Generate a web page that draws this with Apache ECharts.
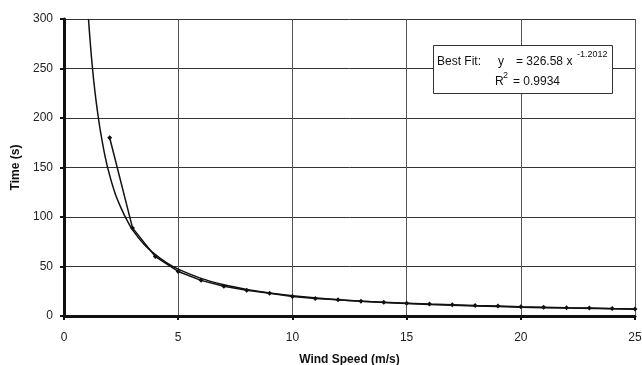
<!DOCTYPE html>
<html>
<head>
<meta charset="utf-8">
<script src="https://cdn.jsdelivr.net/npm/echarts@6/dist/echarts.min.js"></script>
<style>
  html, body { margin: 0; padding: 0; background: #fff; }
  #chart { width: 642px; height: 365px; }
</style>
</head>
<body>
<div id="chart"></div>
<script>
// measured times at each wind speed
const windSpeed = [2, 3, 4, 5, 6, 7, 8, 9, 10, 11, 12, 13, 14, 15, 16, 17, 18, 19, 20, 21, 22, 23, 24, 25]
const timeValues = [180, 89, 60, 45, 36, 30, 26, 23, 19.8, 17.8, 16.3, 15, 14, 13, 12, 11.3, 10.6, 10, 9.4, 8.9, 8.4, 8, 7.5, 7.1]

// best-fit curve
const fitX = [1.074, 1.1, 1.2, 1.3, 1.4, 1.5, 1.6, 1.8, 2, 2.25, 2.5, 2.75, 3, 3.5, 4, 4.5, 5, 6, 7, 8, 9, 10, 12, 14, 16, 18, 20, 22, 25]
const fitY = [300, 291, 262, 238, 218, 201, 186, 161, 142, 123, 109, 97, 87, 72.5, 62, 53.6, 47.3, 38, 31.5, 26.9, 23.3, 20.5, 16.5, 13.7, 11.7, 10.2, 8.9, 8, 6.8]

const chart = echarts.init(document.getElementById('chart'))

const font = 'Liberation Sans, Arial'
const labelStyle = { color: '#222', fontFamily: font, fontSize: 12 }
const nameStyle = { color: '#111', fontFamily: font, fontSize: 12, fontWeight: 'bold' }

function boxText (x, y, text, size) {
  return {
    type: 'text',
    x: x,
    y: y,
    z: 11,
    style: { text: text, fill: '#111', font: size + 'px ' + font, verticalAlign: 'middle' }
  }
}

chart.setOption({
  animation: false,
  backgroundColor: '#fff',
  grid: { left: 64, right: 7, top: 19, bottom: 49, outerBoundsMode: 'none' },
  xAxis: {
    type: 'value',
    min: 0,
    max: 25,
    interval: 5,
    name: 'Wind Speed (m/s)',
    nameLocation: 'middle',
    nameGap: 38,
    nameTextStyle: nameStyle,
    axisLine: { lineStyle: { color: '#111', width: 3 } },
    axisTick: { show: true, length: 4, lineStyle: { color: '#111', width: 2 } },
    axisLabel: Object.assign({ margin: 16 }, labelStyle),
    splitLine: { show: true, lineStyle: { color: '#555', width: 1 } }
  },
  yAxis: {
    type: 'value',
    min: 0,
    max: 300,
    interval: 50,
    name: 'Time (s)',
    nameLocation: 'middle',
    nameGap: 40,
    nameTextStyle: nameStyle,
    axisLine: { show: true, lineStyle: { color: '#111', width: 3 } },
    axisTick: { show: true, length: 4, lineStyle: { color: '#111', width: 2 } },
    axisLabel: Object.assign({ margin: 11 }, labelStyle),
    splitLine: { show: true, lineStyle: { color: '#333', width: 1 } }
  },
  series: [
    {
      type: 'line',
      data: fitX.map((x, i) => [x, fitY[i]]),
      showSymbol: false,
      smooth: 0.3,
      lineStyle: { color: '#111', width: 1.5 },
      z: 3
    },
    {
      type: 'line',
      data: windSpeed.map((x, i) => [x, timeValues[i]]),
      symbol: 'diamond',
      symbolSize: 5,
      itemStyle: { color: '#111' },
      lineStyle: { color: '#111', width: 1.5 },
      z: 4
    }
  ],
  graphic: [
    { type: 'rect', z: 10, shape: { x: 433.5, y: 45.5, width: 179, height: 48 }, style: { fill: '#fff', stroke: '#333', lineWidth: 1 } },
    boxText(437, 62, 'Best Fit:', 12),
    boxText(498, 62, 'y', 12),
    boxText(516, 62, '= 326.58 x', 12),
    boxText(577, 55, '-1.2012', 9),
    boxText(495, 82, 'R', 12),
    boxText(503, 76, '2', 9),
    boxText(513, 82, '= 0.9934', 12)
  ]
})
</script>
</body>
</html>
